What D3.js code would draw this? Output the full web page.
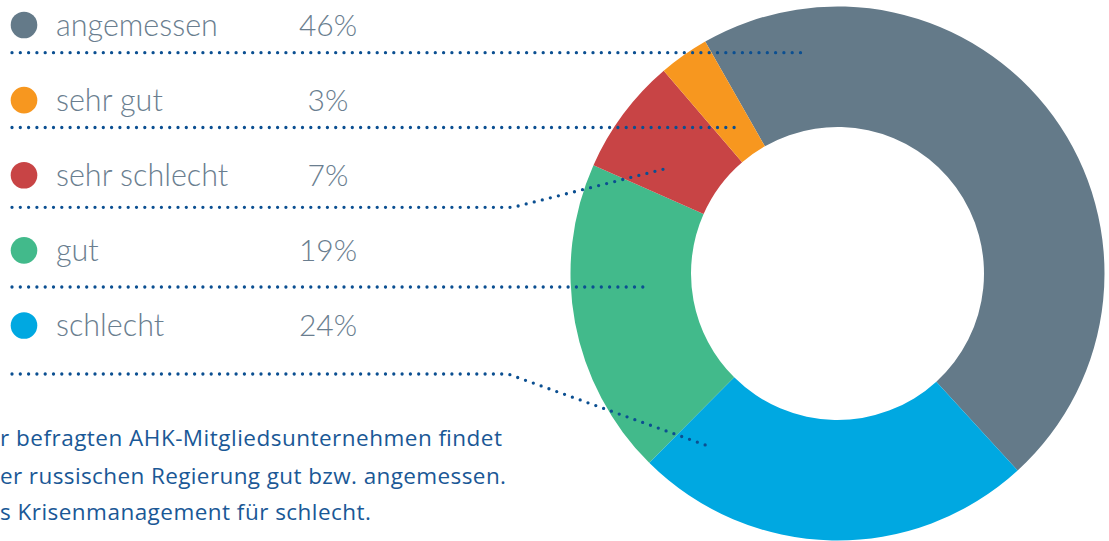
<!DOCTYPE html>
<html><head><meta charset="utf-8">
<script src="https://cdn.jsdelivr.net/npm/d3@7"></script>
<style>
html,body{margin:0;padding:0;background:#fff;overflow:hidden}
svg{display:block}
</style></head>
<body>
<svg id="c" width="1109" height="541"></svg>
<script>
// ---- data ----
const categories = ["angemessen", "sehr gut", "sehr schlecht", "gut", "schlecht"];
const values     = [46, 3, 7, 19, 24];
const colors = ["#647a89", "#f7971f", "#c84445", "#42ba8b", "#00a8e1"];
// ring order (clockwise from the gray slice)
const ringOrder = ["angemessen", "schlecht", "gut", "sehr schlecht", "sehr gut"];
const noteLines = [
  "r befragten AHK-Mitgliedsunternehmen findet",
  "er russischen Regierung gut bzw. angemessen.",
  "s Krisenmanagement für schlecht."
];

// ---- layout ----
const svg = d3.select("#c");
const cx = 837.5, cy = 273.5, rOuter = 267, rInner = 146.5;
const startDeg = -29.7;

const color = d3.scaleOrdinal().domain(categories).range(colors);
const valueOf = new Map(categories.map((c, i) => [c, values[i]]));

const pie = d3.pie()
  .sort(null)
  .value(d => valueOf.get(d))
  .startAngle(startDeg * Math.PI / 180)
  .endAngle(startDeg * Math.PI / 180 + 2 * Math.PI);
const arc = d3.arc().innerRadius(rInner).outerRadius(rOuter);

svg.append("g").attr("transform", `translate(${cx},${cy})`)
  .selectAll("path").data(pie(ringOrder)).join("path")
  .attr("d", arc).attr("fill", d => color(d.data));

// legend rows
const y = d3.scalePoint().domain(categories).range([25, 325.5]);
const leg = svg.append("g");
leg.selectAll("circle").data(categories).join("circle")
  .attr("cx", 24).attr("cy", d => y(d)).attr("r", 13.3).attr("fill", d => color(d));
leg.selectAll("text.name").data(categories).join("text").attr("class", "name")
  .attr("x", 56).attr("y", d => y(d) + 10.5)
  .attr("font-family", "Lato, 'Open Sans', sans-serif").attr("font-weight", 300)
  .attr("font-size", 30.5).attr("fill", "#6a7e8f").text(d => d);
leg.selectAll("text.pct").data(categories).join("text").attr("class", "pct")
  .attr("x", 328).attr("y", d => y(d) + 10.5).attr("text-anchor", "middle")
  .attr("font-family", "Lato, 'Open Sans', sans-serif").attr("font-weight", 300)
  .attr("font-size", 30).attr("fill", "#6a7e8f").text(d => valueOf.get(d) + "%");

// leader lines (dotted)
const leaders = [
  [[12, 52.7], [802, 52.7]],
  [[12, 127.5], [736, 127.5]],
  [[12, 207.3], [513, 207.3], [663, 169.3]],
  [[12, 287], [649, 287]],
  [[12, 374], [508, 374], [710, 446.7]]
];
const line = d3.line();
svg.append("g").selectAll("path").data(leaders).join("path")
  .attr("d", line).attr("fill", "none").attr("stroke", "#0b4f91")
  .attr("stroke-width", 3.3).attr("stroke-linecap", "round")
  .attr("stroke-dasharray", "0 8.3");

// note text
const noteWidth = [502, 506, 371];
const noteY = [446, 484, 520];
svg.append("g").selectAll("text").data(noteLines).join("text")
  .attr("x", 0).attr("y", (d, i) => noteY[i])
  .attr("font-family", "'Open Sans', 'Noto Sans', sans-serif").attr("font-size", 22.5)
  .attr("fill", "#1a5896")
  .attr("textLength", (d, i) => noteWidth[i]).attr("lengthAdjust", "spacing")
  .text(d => d);
</script>
</body></html>
